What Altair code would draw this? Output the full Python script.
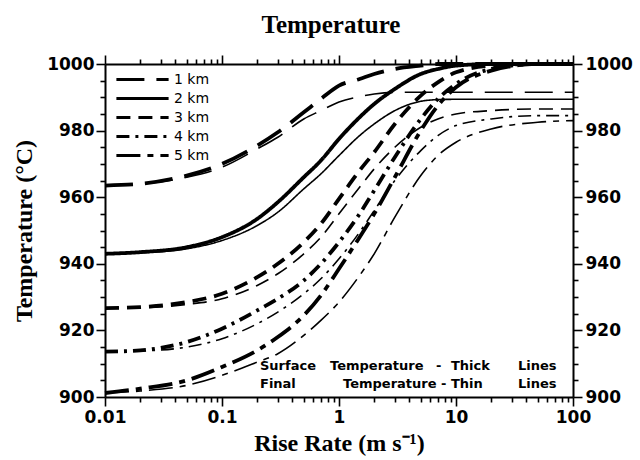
import altair as alt
import pandas as pd

# ---- data ----
rise_rate = [0.01, 0.02, 0.05, 0.1, 0.2, 0.3, 0.5, 0.7, 1, 1.5, 2, 3, 5, 7, 10, 20, 50, 100]
depths = ["1 km", "2 km", "3 km", "4 km", "5 km"]

surface_1km = [963.5, 964, 966.5, 970, 975.5, 979.5, 985.5, 989.5, 993.5, 995.5, 997, 998.5, 999.5, 1000, 1000, 1000, 1000, 1000]
final_1km = [963.5, 964, 966, 969, 974.5, 978, 983.5, 986, 988.6, 990.2, 991, 991.5, 991.5, 991.5, 991.5, 991.5, 991.5, 991.5]

surface_2km = [943, 943.5, 945, 948, 953.5, 958.5, 966, 971, 977.5, 984, 988, 992.5, 997, 998.5, 999.5, 1000, 1000, 1000]
final_2km = [943, 943.3, 944.5, 947, 951.5, 955.5, 962.5, 967, 972.5, 978.5, 982, 986, 988.8, 989.3, 989.4, 989.4, 989.4, 989.4]

surface_3km = [926.7, 927, 928.5, 931, 936, 940, 946.5, 952, 959.5, 968, 973.5, 982, 990.5, 994.5, 997.5, 999.5, 1000, 1000]
final_3km = [926.7, 926.8, 927.8, 929.5, 933.5, 937, 943, 948, 955, 963, 968.5, 975, 981, 983.5, 985, 986, 986.5, 986.5]

surface_4km = [913.6, 914, 916.5, 920.5, 926, 929.5, 935, 940, 946.5, 955, 962, 972, 983.5, 989.5, 994, 998.5, 1000, 1000]
final_4km = [913.6, 913.8, 915, 917.5, 922, 925.5, 931, 935.5, 941.5, 949.5, 956, 965, 974, 978.5, 981.5, 983.5, 984.5, 984.5]

surface_5km = [901.2, 902.5, 905, 909, 914, 918, 924.5, 930.5, 938.5, 948, 955, 966, 980, 987.5, 993, 998, 1000, 1000]
final_5km = [901.2, 901.8, 903.5, 906.5, 910.5, 913, 918.5, 923, 928.5, 936.5, 943, 954, 966.5, 972.5, 976.5, 980.5, 982.5, 983]

surface = [surface_1km, surface_2km, surface_3km, surface_4km, surface_5km]
final = [final_1km, final_2km, final_3km, final_4km, final_5km]

x_ticks = [m * 10.0 ** e for e in range(-2, 2) for m in range(1, 10)] + [100]
y_ticks = list(range(900, 1001, 5))

rows = []
for d, s_vals, f_vals in zip(depths, surface, final):
    for r, s, f in zip(rise_rate, s_vals, f_vals):
        rows.append({"depth": d, "kind": "Surface", "rate": r, "T": s})
        rows.append({"depth": d, "kind": "Final", "rate": r, "T": f})
df = pd.DataFrame(rows)

dash_scale = alt.Scale(domain=depths,
                       range=[[28, 12], [1, 0], [14, 8], [13, 6, 3, 6], [24, 7, 6, 7]])

x_major = "abs(log(datum.value)/LN10 - round(log(datum.value)/LN10)) < 0.001"
y_major = "datum.value % 20 === 0"

label_font = "DejaVu Sans"
serif = "Liberation Serif"

xscale = alt.Scale(type="log", domain=[0.01, 100], nice=False)
yscale = alt.Scale(domain=[900, 1000], nice=False, zero=False)

common_axis = dict(
    grid=False, domainColor="black", domainWidth=2, tickColor="black", tickWidth=1.6,
    labelFont=label_font, labelFontWeight="bold", labelFontSize=17, labelColor="black",
    labelFlush=False, labelOverlap=False,
)

thick = alt.Chart(df).transform_filter("datum.kind == 'Surface'").mark_line(
    color="black", strokeWidth=3.8, interpolate="monotone"
).encode(
    x=alt.X("rate:Q", scale=xscale,
            axis=alt.Axis(values=x_ticks, format="~g",
                          labelExpr=f"({x_major}) ? datum.label : ''",
                          tickSize={"condition": {"test": x_major, "value": 9}, "value": 5},
                          labelPadding=3,
                          title="Rise Rate (m s\u207b\u00b9)", titleFont=serif, titleFontSize=24,
                          titleFontWeight="bold", titleColor="black", titlePadding=6,
                          **common_axis)),
    y=alt.Y("T:Q", scale=yscale,
            axis=alt.Axis(values=y_ticks, format="d",
                          labelExpr=f"({y_major}) ? datum.label : ''",
                          tickSize={"condition": {"test": y_major, "value": 9}, "value": 5},
                          labelPadding=2,
                          title="Temperature (\u00b0C)", titleFont=serif, titleFontSize=24,
                          titleFontWeight="bold", titleColor="black", titlePadding=10,
                          **common_axis)),
    strokeDash=alt.StrokeDash("depth:N", scale=dash_scale,
                              legend=alt.Legend(orient="none", legendX=27, legendY=5, title=None,
                                                symbolType="M-2.9,0H2.9", symbolSize=324,
                                                symbolStrokeWidth=2.8, symbolStrokeColor="black",
                                                labelFont=label_font, labelFontSize=14,
                                                labelColor="black", labelOffset=21,
                                                rowPadding=1)),
    detail="depth:N",
)

thin = alt.Chart(df).transform_filter("datum.kind == 'Final'").mark_line(
    color="black", strokeWidth=1.6, interpolate="monotone"
).encode(
    x=alt.X("rate:Q", scale=xscale,
            axis=alt.Axis(orient="top", values=x_ticks, labels=False, title=None,
                          tickSize={"condition": {"test": x_major, "value": 9}, "value": 5},
                          **common_axis)),
    y=alt.Y("T:Q", scale=yscale,
            axis=alt.Axis(orient="right", values=y_ticks, format="d",
                          labelExpr=f"({y_major}) ? datum.label : ''",
                          tickSize={"condition": {"test": y_major, "value": 9}, "value": 5},
                          labelPadding=3, title=None, **common_axis)),
    strokeDash=alt.StrokeDash("depth:N", scale=dash_scale, legend=None),
    detail="depth:N",
)

# annotation words (text, x, baseline y) in plot pixels
notes = [
    ("Surface", 155, 306), ("Temperature", 225, 306), ("-", 331, 306), ("Thick", 346, 306), ("Lines", 413, 306),
    ("Final", 155, 324), ("Temperature", 238, 324), ("-", 336, 324), ("Thin", 346, 324), ("Lines", 413, 324),
]
note_layers = []
for t, px, py in notes:
    note_layers.append(
        alt.Chart(pd.DataFrame({"t": [t]})).mark_text(
            align="left", baseline="alphabetic", font=label_font, fontWeight="bold",
            fontSize=13, color="black"
        ).encode(x=alt.value(px), y=alt.value(py), text="t:N")
    )

chart = alt.layer(thick, thin, *note_layers).resolve_axis(
    x="independent", y="independent"
).properties(
    width=468, height=333,
    autosize=alt.AutoSizeParams(type="none"),
    padding={"left": 105, "top": 64, "right": 67, "bottom": 63},
    title=alt.TitleParams("Temperature", font=serif, fontSize=25, fontWeight="bold",
                          color="black", anchor="middle", offset=16, dx=-8),
).configure_view(stroke=None).configure(background="white")

chart.save("out.html", embed_options={"renderer": "svg", "actions": False})
